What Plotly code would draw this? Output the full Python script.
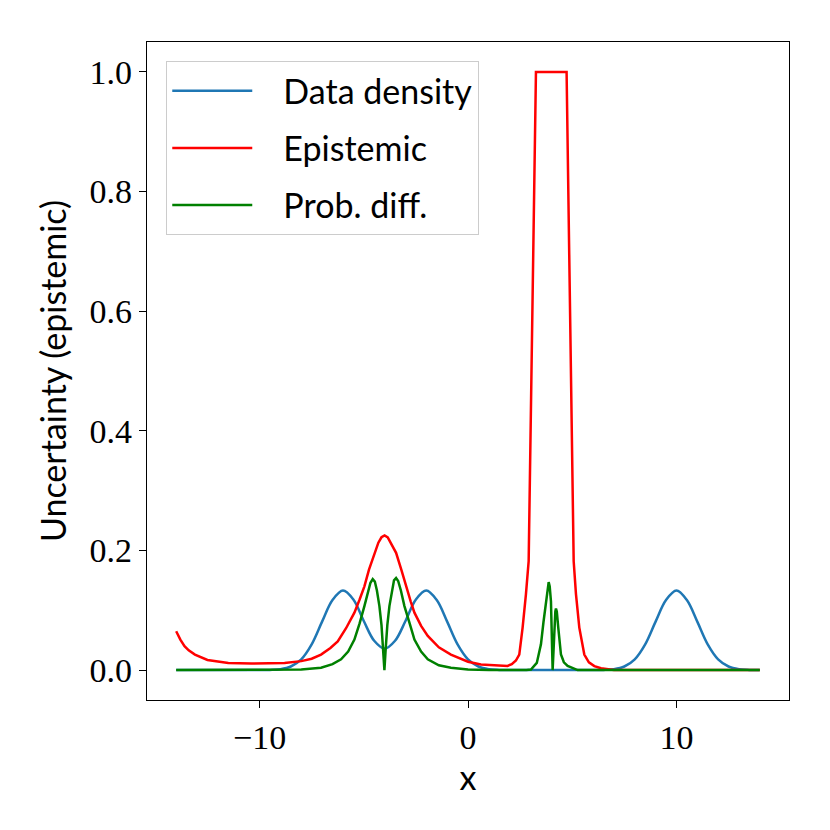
import plotly.graph_objects as go

# values
density_x = [-14, -13.5, -13, -12.5, -12, -11.5, -11, -10.5, -10, -9.5,
             -9, -8.5, -8, -7.5, -7, -6.5, -6, -5.5, -5, -4.5,
             -4, -3.5, -3, -2.5, -2, -1.5, -1, -0.5, 0, 0.5,
             1, 1.5, 2, 3, 4, 5, 6, 6.5, 7, 7.5,
             8, 8.5, 9, 9.5, 10, 10.5, 11, 11.5, 12, 12.5,
             13, 13.5, 14]
density_y = [0, 0, 0, 0, 0, 0, 0, 0, 0, 0.0003,
             0.0015, 0.006, 0.018, 0.043, 0.081, 0.117, 0.133, 0.118, 0.082, 0.049,
             0.036, 0.049, 0.082, 0.118, 0.133, 0.117, 0.081, 0.043, 0.018, 0.006,
             0.0015, 0.0003, 0, 0, 0, 0, 0, 0.0003, 0.0015, 0.006,
             0.018, 0.043, 0.081, 0.117, 0.133, 0.117, 0.081, 0.043, 0.018, 0.006,
             0.0015, 0.0003, 0]

epi_x = [-14, -13.8, -13.6, -13.4, -13.1, -12.5, -11.5, -10.4, -8.8, -8,
         -7.5, -7.05, -6.6, -6.25, -5.85, -5.45, -5.2, -4.97, -4.75, -4.49,
         -4.3, -4.15, -4.0, -3.85, -3.7, -3.45, -3.2, -2.97, -2.75, -2.57,
         -2.25, -1.93, -1.4, -0.82, 0, 0.62, 1.58, 1.9, 2.1, 2.3,
         2.46, 2.62, 2.78, 2.91, 3.26, 4.73, 5.07, 5.18, 5.34, 5.58,
         5.8, 6.06, 6.38, 7, 14]
epi_y = [0.065, 0.051, 0.040, 0.033, 0.026, 0.017, 0.012, 0.011, 0.012, 0.015,
         0.019, 0.026, 0.037, 0.048, 0.070, 0.096, 0.118, 0.140, 0.168, 0.196,
         0.213, 0.222, 0.225, 0.222, 0.213, 0.196, 0.168, 0.140, 0.115, 0.096,
         0.074, 0.057, 0.038, 0.026, 0.014, 0.0095, 0.007, 0.007, 0.010, 0.016,
         0.026, 0.071, 0.127, 0.182, 1.0, 1.0, 0.182, 0.127, 0.071, 0.026,
         0.013, 0.0067, 0.003, 0.0, 0.0]

diff_x = [-14, -9, -8, -7.05, -6.5, -6.09, -5.75, -5.45, -5.2, -4.97,
          -4.8, -4.68, -4.57, -4.47, -4.37, -4.25, -4.15, -4.07, -4.01, -3.95,
          -3.87, -3.77, -3.65, -3.55, -3.45, -3.35, -3.22, -3.05, -2.8, -2.57,
          -2.25, -1.93, -1.4, -0.82, 0, 1, 2.8, 3.02, 3.3, 3.5,
          3.62, 3.74, 3.82, 3.87, 3.92, 3.98, 4.06, 4.14, 4.19, 4.22,
          4.26, 4.33, 4.46, 4.6, 4.78, 5.26, 14]
diff_y = [0, 0, 0.001, 0.004, 0.010, 0.018, 0.031, 0.051, 0.078, 0.107,
          0.132, 0.146, 0.152, 0.148, 0.133, 0.107, 0.075, 0.035, 0.0, 0.035,
          0.075, 0.107, 0.135, 0.150, 0.154, 0.149, 0.133, 0.107, 0.078, 0.051,
          0.031, 0.018, 0.008, 0.004, 0.001, 0, 0, 0.001, 0.012, 0.043,
          0.080, 0.115, 0.140, 0.147, 0.140, 0.115, 0.0, 0.071, 0.098, 0.103,
          0.098, 0.071, 0.026, 0.013, 0.007, 0.0, 0]

serif = "Liberation Serif"
sans = "Lato"
pad = "\u00a0\u00a0\u00a0"  # gap between legend line and text

fig = go.Figure()
fig.add_trace(go.Scatter(x=density_x, y=density_y, mode="lines", name=pad + "Data density",
                         line=dict(color="#1f77b4", width=2.5, shape="spline"),
                         legendgroup="a"))
fig.add_trace(go.Scatter(x=epi_x, y=epi_y, mode="lines", name=pad + "Epistemic",
                         line=dict(color="red", width=2.5), legendgroup="b"))
fig.add_trace(go.Scatter(x=diff_x, y=diff_y, mode="lines", name=pad + "Prob. diff.",
                         line=dict(color="green", width=2.5), legendgroup="c"))

axis = dict(showline=True, linecolor="black", linewidth=1.3, mirror=True,
            ticks="outside", ticklen=7, tickwidth=1.3, tickcolor="black",
            showgrid=False, zeroline=False,
            tickfont=dict(family=serif, size=34, color="black"))

fig.update_xaxes(range=[-15.4, 15.4], tickvals=[-10, 0, 10],
                 title=dict(text="x", font=dict(family=sans, size=34, color="black"), standoff=6),
                 **axis)
fig.update_yaxes(range=[-0.05, 1.05], tickvals=[0, 0.2, 0.4, 0.6, 0.8, 1.0], tickformat=".1f",
                 title=dict(text="Uncertainty (epistemic)", font=dict(family=sans, size=34, color="black"),
                            standoff=12),
                 **axis)

fig.update_layout(
    width=830, height=830,
    margin=dict(l=139, r=49, t=34, b=138),
    paper_bgcolor="white", plot_bgcolor="white",
    showlegend=True,
    legend=dict(x=0.03, y=0.971, xanchor="left", yanchor="top",
                bgcolor="rgba(255,255,255,0.8)", bordercolor="#cccccc", borderwidth=1,
                font=dict(family=sans, size=34, color="black"),
                itemwidth=80, tracegroupgap=10, traceorder="grouped"),
)

fig.write_html("out.html")
